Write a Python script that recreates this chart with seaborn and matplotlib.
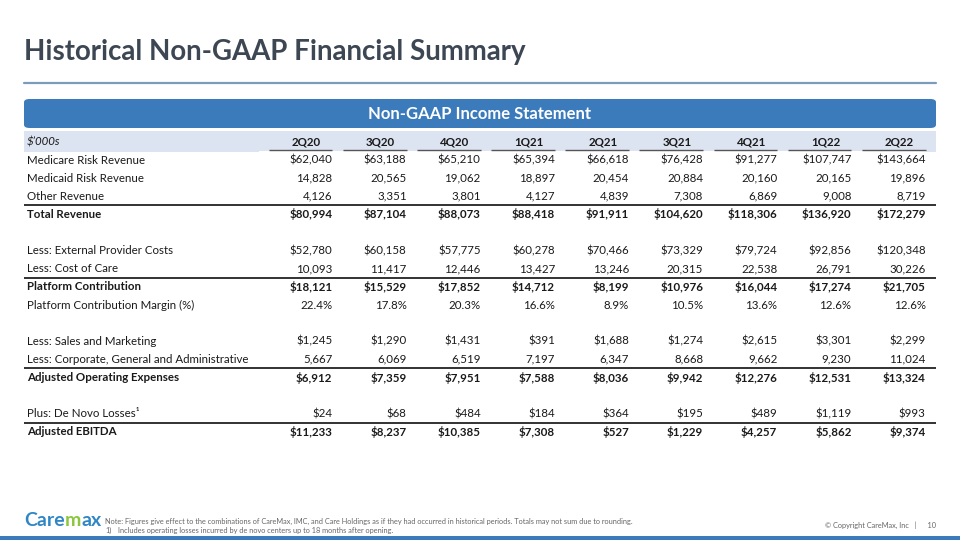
import numpy as np
import pandas as pd
import matplotlib.pyplot as plt
import seaborn as sns
from matplotlib.colors import ListedColormap
from matplotlib.patches import FancyBboxPatch, Rectangle

sns.set_theme(style='white')
plt.rcParams['font.family'] = ['Lato', 'DejaVu Sans']

# ---- data (in $'000s) ----
quarters = ['2Q20', '3Q20', '4Q20', '1Q21', '2Q21', '3Q21', '4Q21', '1Q22', '2Q22']
medicare_risk = [62040, 63188, 65210, 65394, 66618, 76428, 91277, 107747, 143664]
medicaid_risk = [14828, 20565, 19062, 18897, 20454, 20884, 20160, 20165, 19896]
other_revenue = [4126, 3351, 3801, 4127, 4839, 7308, 6869, 9008, 8719]
total_revenue = [80994, 87104, 88073, 88418, 91911, 104620, 118306, 136920, 172279]
external_provider = [52780, 60158, 57775, 60278, 70466, 73329, 79724, 92856, 120348]
cost_of_care = [10093, 11417, 12446, 13427, 13246, 20315, 22538, 26791, 30226]
platform_contribution = [18121, 15529, 17852, 14712, 8199, 10976, 16044, 17274, 21705]
platform_margin = [22.4, 17.8, 20.3, 16.6, 8.9, 10.5, 13.6, 12.6, 12.6]
sales_marketing = [1245, 1290, 1431, 391, 1688, 1274, 2615, 3301, 2299]
corporate_ga = [5667, 6069, 6519, 7197, 6347, 8668, 9662, 9230, 11024]
adjusted_opex = [6912, 7359, 7951, 7588, 8036, 9942, 12276, 12531, 13324]
de_novo_losses = [24, 68, 484, 184, 364, 195, 489, 1119, 993]
adjusted_ebitda = [11233, 8237, 10385, 7308, 527, 1229, 4257, 5862, 9374]

blank = [np.nan] * len(quarters)
row_labels = ['Medicare Risk Revenue', 'Medicaid Risk Revenue', 'Other Revenue', 'Total Revenue', '',
              'Less: External Provider Costs', 'Less: Cost of Care', 'Platform Contribution',
              'Platform Contribution Margin (%)', '',
              'Less: Sales and Marketing', 'Less: Corporate, General and Administrative',
              'Adjusted Operating Expenses', '', 'Plus: De Novo Losses\u00b9', 'Adjusted EBITDA']
rows = [medicare_risk, medicaid_risk, other_revenue, total_revenue, blank,
        external_provider, cost_of_care, platform_contribution, platform_margin, blank,
        sales_marketing, corporate_ga, adjusted_opex, blank, de_novo_losses, adjusted_ebitda]
df = pd.DataFrame(rows, index=row_labels, columns=quarters, dtype=float)

# row formatting
dollar_rows = {0, 3, 5, 7, 10, 12, 14, 15}
bold_rows = {3, 7, 12, 15}
pct_rows = {8}
rule_rows = [3, 7, 12, 15]   # solid rule drawn above these rows

BLUE = '#3c7bbb'
TXT = '#1a1a1a'

fig = plt.figure(figsize=(9.6, 5.4), dpi=100)
W, H = 960, 540

def fx(px):
    return px / W

def fy(py):
    return 1 - py / H

# ---- slide furniture ----
fig.text(fx(24), fy(52), 'Historical Non-GAAP Financial Summary', fontsize=19.9, fontweight='bold',
         color='#3d4653', va='center', ha='left')
fig.add_artist(plt.Line2D([fx(24), fx(936)], [fy(83), fy(83)], color='#7d9bbb', lw=1.6))
fig.add_artist(FancyBboxPatch((fx(24), fy(128)), fx(912), 29 / H,
                              boxstyle='round,pad=0,rounding_size=0.006',
                              transform=fig.transFigure, facecolor=BLUE, edgecolor='none'))
fig.text(0.5, fy(114), 'Non-GAAP Income Statement', fontsize=12, fontweight='bold',
         color='white', ha='center', va='center')

# ---- table ----
ax = fig.add_axes([fx(24), fy(441), fx(912), 310 / H])
sns.heatmap(df.values, ax=ax, cmap=ListedColormap(['white']), cbar=False,
            linewidths=0, xticklabels=False, yticklabels=False)
ax.set_xlim(-3.17, 9.13)
ax.set_ylim(16, -1.1)
ax.set_xticks([])
ax.set_yticks([])
for s in ax.spines.values():
    s.set_visible(False)

# header band
ax.add_patch(Rectangle((-3.17, -1.1), 12.3, 1.16, facecolor='#dde4f1', edgecolor='none', zorder=0))
ax.text(-3.13, -0.5, "$\u2019000s", fontstyle='italic', fontsize=8.3, color=TXT,
        ha='left', va='center')
for j, q in enumerate(quarters):
    ax.text(j + 0.64, -0.5, q, fontsize=8.3, fontweight='bold', color=TXT, ha='center', va='center')
    ax.plot([j + 0.13, j + 0.99], [-0.06, -0.06], color='#555555', lw=1.0, solid_capstyle='butt')

for i, label in enumerate(row_labels):
    weight = 'bold' if i in bold_rows else 'normal'
    ax.text(-3.13, i + 0.5, label, fontsize=8.3, fontweight=weight, color=TXT,
            ha='left', va='center')
    vals = df.iloc[i].values
    for j, v in enumerate(vals):
        if np.isnan(v):
            continue
        if i in pct_rows:
            s = f'{v:.1f}%'
        else:
            s = f'{v:,.0f}'
            if i in dollar_rows:
                s = '$' + s
        ax.text(j + 0.99, i + 0.5, s, fontsize=8.3, fontweight=weight, color=TXT,
                ha='right', va='center')

ax.hlines(rule_rows, -3.17, 9.13, colors='#222222', lw=1.3)

# ---- footer ----
logo = fig.text(fx(24), fy(521), 'Care', fontsize=14, fontweight='bold', color='#2f86c6',
                ha='left', va='center')
m = plt.annotate('m', xy=(1, 0.5), xycoords=logo, va='center', ha='left', fontsize=14,
                 fontweight='bold', color='#8cc63f', annotation_clip=False)
plt.annotate('ax', xy=(1, 0.5), xycoords=m, va='center', ha='left', fontsize=14,
             fontweight='bold', color='#2f86c6', annotation_clip=False)
fig.text(fx(105), fy(521), 'Note: Figures give effect to the combinations of CareMax, IMC, and Care Holdings '
         'as if they had occurred in historical periods. Totals may not sum due to rounding.',
         fontsize=5.3, color='#666666', ha='left', va='center')
fig.text(fx(105), fy(530), '1)', fontsize=5.3, color='#666666', ha='left', va='center')
fig.text(fx(118), fy(530), 'Includes operating losses incurred by de novo centers up to 18 months after opening.',
         fontsize=5.3, color='#666666', ha='left', va='center')
fig.text(fx(936), fy(525), '\u00a9 Copyright CareMax, Inc   |      10', fontsize=5.3,
         color='#666666', ha='right', va='center')
fig.add_artist(Rectangle((0, 0), 1, 4 / H, transform=fig.transFigure, facecolor=BLUE,
                         edgecolor='none'))

fig.savefig('out.png', dpi=100)
